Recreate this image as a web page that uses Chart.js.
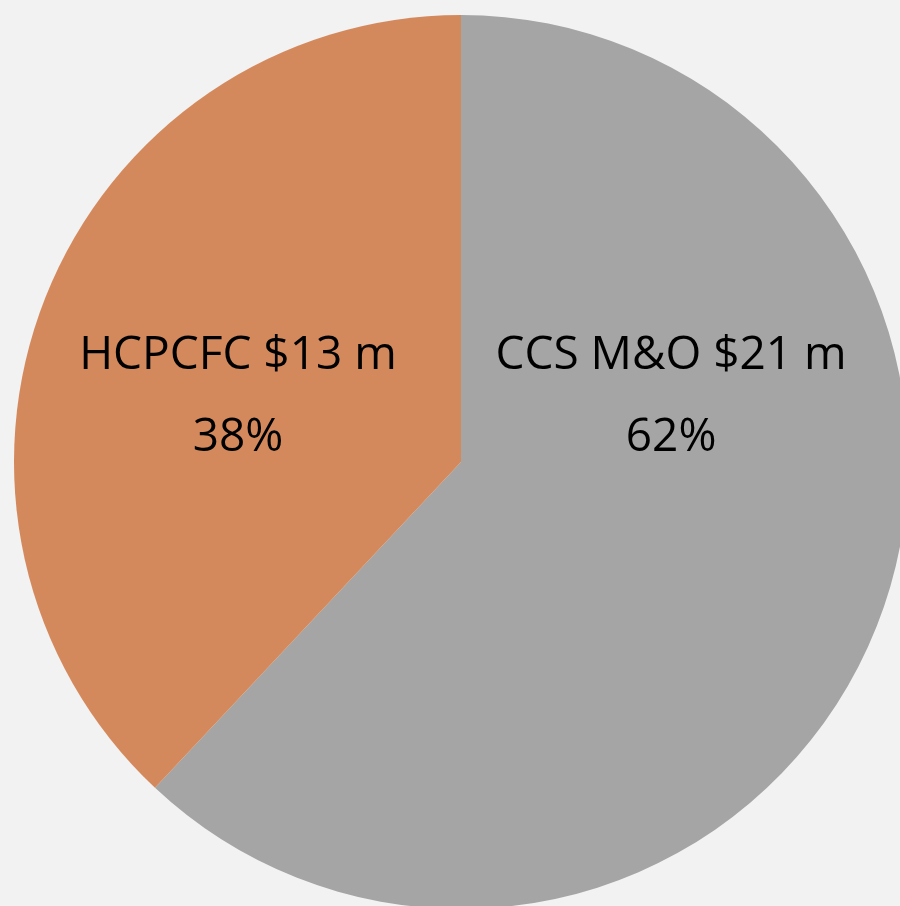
<!DOCTYPE html>
<html>
<head>
<meta charset="utf-8">
<script src="https://cdn.jsdelivr.net/npm/chart.js@4/dist/chart.umd.min.js"></script>
<style>
  html, body { margin: 0; padding: 0; background: #f2f2f2; overflow: hidden; width: 900px; height: 906px; }
  #wrap { position: absolute; left: 14px; top: 15px; width: 894px; height: 894px; }
</style>
</head>
<body>
<div id="wrap"><canvas id="pieChart"></canvas></div>
<script>
const labels = ["CCS M&O", "HCPCFC"];
const amounts = [21, 13];
const percents = [62, 38];
const colors = ["#a5a5a5", "#d4895d"];

// where each label sits, as a fraction of the radius from the centre (Excel best fit)
const labelAnchors = [[0.47, -0.145], [-0.499, -0.145]];

const sliceLabels = {
  id: "sliceLabels",
  afterDatasetsDraw(chart) {
    const ctx = chart.ctx;
    const meta = chart.getDatasetMeta(0);
    ctx.save();
    ctx.fillStyle = "#000";
    ctx.font = "46px 'Open Sans'";
    ctx.textAlign = "center";
    ctx.textBaseline = "middle";
    meta.data.forEach((arc, i) => {
      const r = arc.outerRadius;
      const x = arc.x + labelAnchors[i][0] * r;
      const y = arc.y + labelAnchors[i][1] * r;
      ctx.fillText(labels[i] + " $" + amounts[i] + " m", x, y - 41);
      ctx.fillText(percents[i] + "%", x, y + 41);
    });
    ctx.restore();
  }
};

const ctx = document.getElementById("pieChart");

const pieChart = new Chart(ctx, {
  type: "pie",
  data: {
    labels: labels,
    datasets: [
      {
        data: percents,
        backgroundColor: colors,
        borderWidth: 0
      }
    ]
  },
  options: {
    responsive: true,
    maintainAspectRatio: false,
    animation: false,
    layout: { padding: 0 },
    plugins: {
      legend: { display: false },
      tooltip: { enabled: false }
    }
  },
  plugins: [sliceLabels]
});
</script>
</body>
</html>
